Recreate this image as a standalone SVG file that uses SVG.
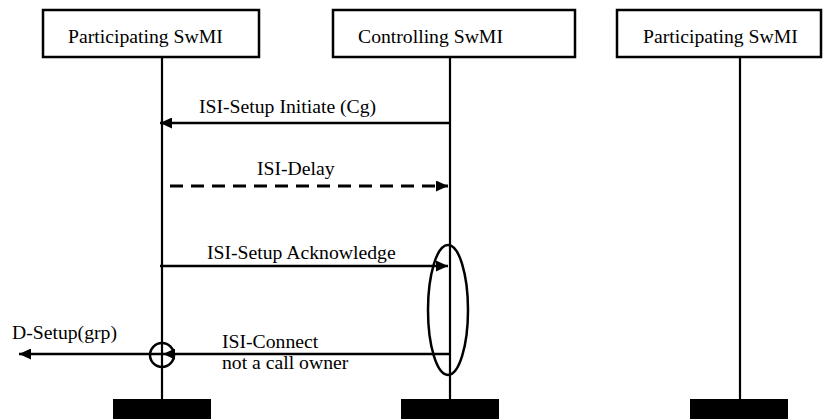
<svg xmlns="http://www.w3.org/2000/svg" width="823" height="419" viewBox="0 0 823 419">
<style>
.box{fill:#fff;stroke:#000;stroke-width:2.5}
.life{stroke:#000;stroke-width:2.2;fill:none}
.msg{stroke:#000;stroke-width:2.6;fill:none}
.dash{stroke-dasharray:13 8;stroke-width:3.2}
.t{font-family:"Liberation Serif","Times New Roman",serif;font-size:19.7px;fill:#000}
.blk{fill:#000}
</style>
<defs>
<marker id="ah" markerWidth="12" markerHeight="11" refX="12" refY="5.5" orient="auto" markerUnits="userSpaceOnUse">
<path d="M0,0 L12,5.5 L0,11 Z" fill="#000"/>
</marker>
</defs>
<g id="node-participating-1">
<rect class="box" x="43" y="10" width="216" height="47"/>
<text class="t" x="68" y="43">Participating SwMI</text>
<line class="life" x1="162" y1="57" x2="162" y2="400"/>
<rect class="blk" x="113" y="399" width="98" height="22"/>
</g>
<g id="node-controlling">
<rect class="box" x="333" y="10" width="242" height="47"/>
<text class="t" x="358" y="43">Controlling SwMI</text>
<line class="life" x1="450" y1="57" x2="450" y2="400"/>
<rect class="blk" x="401" y="399" width="98" height="22"/>
</g>
<g id="node-participating-2">
<rect class="box" x="617" y="10" width="204" height="47"/>
<text class="t" x="643" y="43">Participating SwMI</text>
<line class="life" x1="740" y1="57" x2="740" y2="400"/>
<rect class="blk" x="690" y="399" width="98" height="22"/>
</g>
<g id="connectors">
<line class="msg" x1="450" y1="123" x2="160" y2="123" marker-end="url(#ah)"/>
<text class="t" x="199" y="113">ISI-Setup Initiate (Cg)</text>
<line class="msg dash" x1="170" y1="186" x2="448" y2="186" marker-end="url(#ah)"/>
<text class="t" x="257" y="175">ISI-Delay</text>
<line class="msg" x1="160" y1="266" x2="448" y2="266" marker-end="url(#ah)"/>
<text class="t" x="207" y="259">ISI-Setup Acknowledge</text>
<ellipse cx="448" cy="310" rx="20" ry="65" fill="none" stroke="#000" stroke-width="2.5"/>
<line class="msg" x1="451" y1="354" x2="163" y2="354" marker-end="url(#ah)"/>
<text class="t" x="222" y="348">ISI-Connect</text>
<text class="t" x="222" y="369">not a call owner</text>
<circle cx="162" cy="355" r="12" fill="none" stroke="#000" stroke-width="2.5"/>
<line class="msg" x1="162" y1="354" x2="19" y2="354" marker-end="url(#ah)"/>
<text class="t" x="12" y="339">D-Setup(grp)</text>
</g>
</svg>
